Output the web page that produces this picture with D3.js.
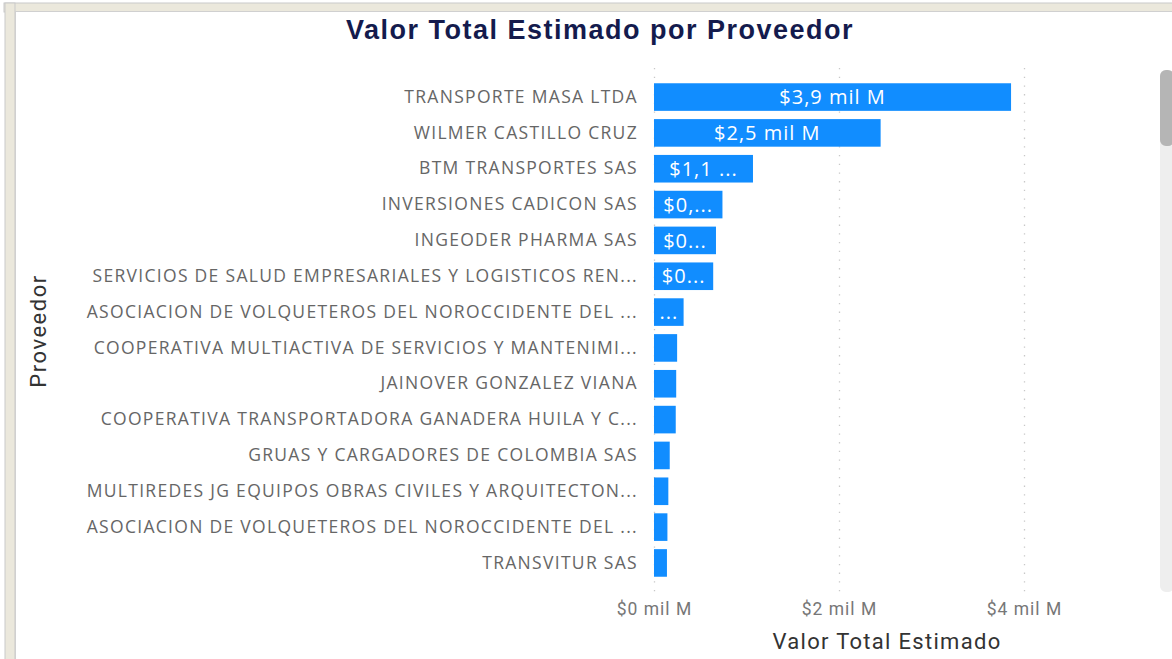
<!DOCTYPE html>
<html>
<head>
<meta charset="utf-8">
<script src="https://cdn.jsdelivr.net/npm/d3@7"></script>
<style>
  body { margin: 0; background: #fff; }
  svg { display: block; }
</style>
</head>
<body>
<div id="chart"></div>
<script>
"use strict";
(function() {

const WIDTH = 1172
const HEIGHT = 659

const BAR_COLOR = '#118DFF'
const LABEL_FONT = "'Open Sans', sans-serif"
const AXIS_FONT = "Roboto, sans-serif"

// data (values in thousands of millions)
const proveedores = [
    "TRANSPORTE MASA LTDA",
    "WILMER CASTILLO CRUZ",
    "BTM TRANSPORTES SAS",
    "INVERSIONES CADICON SAS",
    "INGEODER PHARMA SAS",
    "SERVICIOS DE SALUD EMPRESARIALES Y LOGISTICOS REN...",
    "ASOCIACION DE VOLQUETEROS DEL NOROCCIDENTE DEL ...",
    "COOPERATIVA MULTIACTIVA DE SERVICIOS Y MANTENIMI...",
    "JAINOVER GONZALEZ VIANA",
    "COOPERATIVA TRANSPORTADORA GANADERA HUILA Y C...",
    "GRUAS Y CARGADORES DE COLOMBIA SAS",
    "MULTIREDES JG EQUIPOS OBRAS CIVILES Y ARQUITECTON...",
    "ASOCIACION DE VOLQUETEROS DEL NOROCCIDENTE DEL ...",
    "TRANSVITUR SAS"
]
const valores = [3.86, 2.45, 1.07, 0.74, 0.67, 0.64, 0.32, 0.25, 0.24, 0.235, 0.17, 0.155, 0.145, 0.14]
// data labels as shown (Power BI cuts them to fit the bar)
const etiquetas = ["$3,9 mil M", "$2,5 mil M", "$1,1 ...", "$0,...", "$0...", "$0...", "...", "", "", "", "", "", "", ""]
const ticks = [0, 2, 4]

const data = proveedores.map((p, i) => ({ key: i, name: p, value: valores[i], label: etiquetas[i] }))

const tickFmt = v => "$" + v + " mil M"

const svg = d3.select("#chart").append("svg")
    .attr("width", WIDTH)
    .attr("height", HEIGHT)

// visual frame
svg.append("rect").attr("x", 0).attr("y", 0).attr("width", WIDTH).attr("height", HEIGHT).attr("fill", "#fff")
svg.append("rect").attr("x", 4).attr("y", 3).attr("width", WIDTH).attr("height", 9)
    .attr("fill", "#ebe8dc").attr("stroke", "#c9c9c9").attr("stroke-width", 1)
svg.append("rect").attr("x", 5).attr("y", 3).attr("width", 10).attr("height", HEIGHT)
    .attr("fill", "#ebe8dc").attr("stroke", "#c9c9c9").attr("stroke-width", 1)
svg.append("rect").attr("x", 15.5).attr("y", 11.5).attr("width", WIDTH).attr("height", HEIGHT)
    .attr("fill", "#fff").attr("stroke", "#d0d0d0").attr("stroke-width", 1)

// title
svg.append("text")
    .attr("x", 600).attr("y", 39)
    .attr("text-anchor", "middle")
    .attr("font-family", "'Liberation Sans', Arial, sans-serif")
    .attr("font-weight", "bold")
    .attr("font-size", "27px")
    .attr("letter-spacing", "1.5px")
    .attr("fill", "#141b4d")
    .text("Valor Total Estimado por Proveedor")

// scales
const x = d3.scaleLinear().domain([0, 4]).range([654, 1024])
const y = d3.scaleBand()
    .domain(data.map(d => d.key))
    .range([70, 590])
    .paddingInner(0.23)
    .paddingOuter(0.37)

// gridlines
svg.append("g").selectAll("line")
    .data(ticks)
    .join("line")
    .attr("x1", d => x(d) + 0.5).attr("x2", d => x(d) + 0.5)
    .attr("y1", 68).attr("y2", 594)
    .attr("stroke", "#c8c8c8")
    .attr("stroke-width", 1.3)
    .attr("stroke-dasharray", "1.3,7.4")

// x axis
const xAxis = svg.append("g")
    .attr("transform", "translate(0, 603)")
    .call(d3.axisBottom(x).tickValues(ticks).tickFormat(tickFmt).tickSize(0).tickPadding(0))
xAxis.select(".domain").remove()
xAxis.selectAll("text")
    .attr("dy", "0.71em")
    .attr("font-family", AXIS_FONT)
    .attr("font-size", "17.5px")
    .attr("letter-spacing", "1px")
    .attr("fill", "#777")

// y axis
const yAxis = svg.append("g")
    .attr("transform", "translate(638, 0)")
    .call(d3.axisLeft(y).tickFormat(k => proveedores[k]).tickSize(0).tickPadding(0))
yAxis.select(".domain").remove()
yAxis.selectAll("text")
    .attr("font-family", LABEL_FONT)
    .attr("font-size", "17.5px")
    .attr("letter-spacing", "1.3px")
    .attr("fill", "#666")

// bars
svg.append("g").selectAll("rect")
    .data(data)
    .join("rect")
    .attr("x", x(0))
    .attr("y", d => y(d.key))
    .attr("width", d => x(d.value) - x(0))
    .attr("height", y.bandwidth())
    .attr("fill", BAR_COLOR)

// data labels
svg.append("g").selectAll("text")
    .data(data)
    .join("text")
    .attr("x", d => (x(0) + x(d.value)) / 2)
    .attr("y", d => y(d.key) + y.bandwidth() / 2)
    .attr("dy", "0.36em")
    .attr("text-anchor", "middle")
    .attr("font-family", LABEL_FONT)
    .attr("font-size", "20px")
    .attr("letter-spacing", "1px")
    .attr("fill", "#fff")
    .text(d => d.label)

// axis titles
svg.append("text")
    .attr("x", 887).attr("y", 649)
    .attr("text-anchor", "middle")
    .attr("font-family", AXIS_FONT)
    .attr("font-size", "22px")
    .attr("letter-spacing", "1.3px")
    .attr("fill", "#333")
    .text("Valor Total Estimado")

svg.append("text")
    .attr("transform", "translate(46, 331) rotate(-90)")
    .attr("text-anchor", "middle")
    .attr("font-family", AXIS_FONT)
    .attr("font-size", "22px")
    .attr("letter-spacing", "1.5px")
    .attr("fill", "#333")
    .text("Proveedor")

// scrollbar
svg.append("rect")
    .attr("x", 1160).attr("y", 70).attr("width", 14).attr("height", 522)
    .attr("rx", 6).attr("fill", "#eeeeee")
svg.append("rect")
    .attr("x", 1160).attr("y", 70).attr("width", 14).attr("height", 76)
    .attr("rx", 6).attr("fill", "#b5b5b5")

})();
</script>
</body>
</html>
